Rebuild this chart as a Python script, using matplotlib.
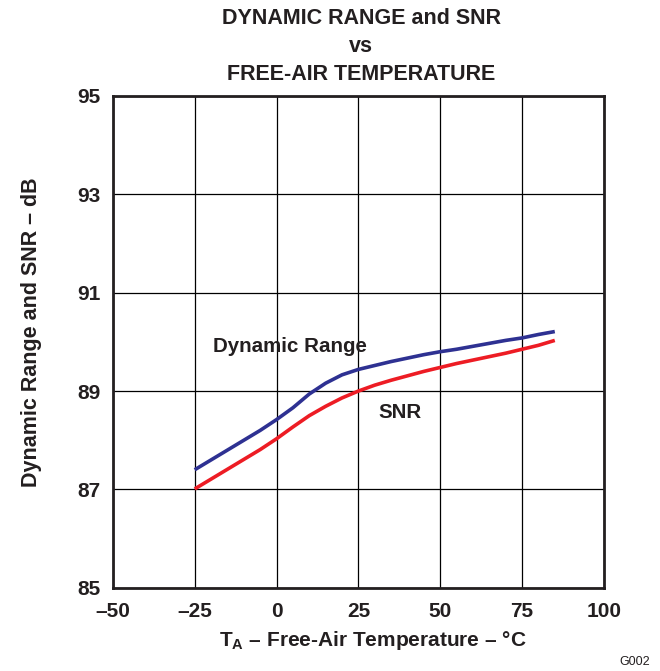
import matplotlib
matplotlib.use("Agg")
import matplotlib.pyplot as plt

plt.rcParams['font.family'] = ['Liberation Sans', 'DejaVu Sans']
plt.rcParams['mathtext.fontset'] = 'custom'
plt.rcParams['mathtext.rm'] = 'Liberation Sans'
plt.rcParams['mathtext.bf'] = 'Liberation Sans:bold'

# temperature, degC
temp = [-25, -20, -15, -10, -5, 0, 5, 10, 15, 20, 25, 30, 35, 40,
        45, 50, 55, 60, 65, 70, 75, 80, 85]
# dynamic range, dB
dyn_range = [87.40, 87.60, 87.80, 88.00, 88.20, 88.42, 88.66, 88.94, 89.16,
             89.33, 89.44, 89.52, 89.60, 89.67, 89.74, 89.80, 89.85, 89.91,
             89.97, 90.03, 90.08, 90.15, 90.21]
# SNR, dB
snr = [87.01, 87.21, 87.41, 87.61, 87.81, 88.03, 88.27, 88.50, 88.69, 88.86,
       89.00, 89.12, 89.22, 89.31, 89.40, 89.48, 89.56, 89.63, 89.70, 89.77,
       89.85, 89.93, 90.03]

xticks = [-50, -25, 0, 25, 50, 75, 100]
xticklabels = ['\u201350', '\u201325', '0', '25', '50', '75', '100']
yticks = [85, 87, 89, 91, 93, 95]

fig = plt.figure(figsize=(6.6, 6.71), dpi=100)
ax = fig.add_axes([0.171, 0.124, 0.744, 0.733])

ax.plot(temp, dyn_range, color='#2E3192', lw=2.6, solid_capstyle='butt')
ax.plot(temp, snr, color='#ED1C24', lw=2.6, solid_capstyle='butt')

ax.set_xlim(-50, 100)
ax.set_ylim(85, 95)
ax.set_xticks(xticks)
ax.set_xticklabels(xticklabels)
ax.set_yticks(yticks)
ax.grid(True, color='black', lw=0.9)
ax.tick_params(length=0, labelsize=15)
ax.tick_params(axis='x', pad=10)
ax.tick_params(axis='y', pad=9)
for lbl in ax.get_xticklabels() + ax.get_yticklabels():
    lbl.set_fontweight('bold')
    lbl.set_color('#231F20')
for sp in ax.spines.values():
    sp.set_linewidth(2)
    sp.set_color('#231F20')

ax.text(4.2, 89.9, 'Dynamic Range', fontsize=14.8, fontweight='bold',
        ha='center', va='center', color='#231F20')
ax.text(37.7, 88.56, 'SNR', fontsize=14.8, fontweight='bold',
        ha='center', va='center', color='#231F20')

# title, one line at a time
title_lines = ['DYNAMIC RANGE and SNR', 'vs', 'FREE-AIR TEMPERATURE']
for i, line in enumerate(title_lines):
    fig.text(0.547, 1 - (18 + 28 * i) / 671, line, fontsize=15.5,
             fontweight='bold', ha='center', va='center', color='#231F20')

fig.text(0.565, 1 - 640 / 671,
         r'$\mathbf{T_A}$ ' + '\u2013 Free-Air Temperature \u2013 \u00b0C',
         fontsize=15, fontweight='bold', ha='center', va='center',
         color='#231F20')
fig.text(0.047, 0.505, 'Dynamic Range and SNR \u2013 dB', fontsize=15.5,
         fontweight='bold', rotation=90, ha='center', va='center',
         color='#231F20')

fig.text(0.985, 1 - 662 / 671, 'G002', fontsize=9, ha='right', va='center',
         color='#231F20')

fig.savefig('out.png', dpi=100)
